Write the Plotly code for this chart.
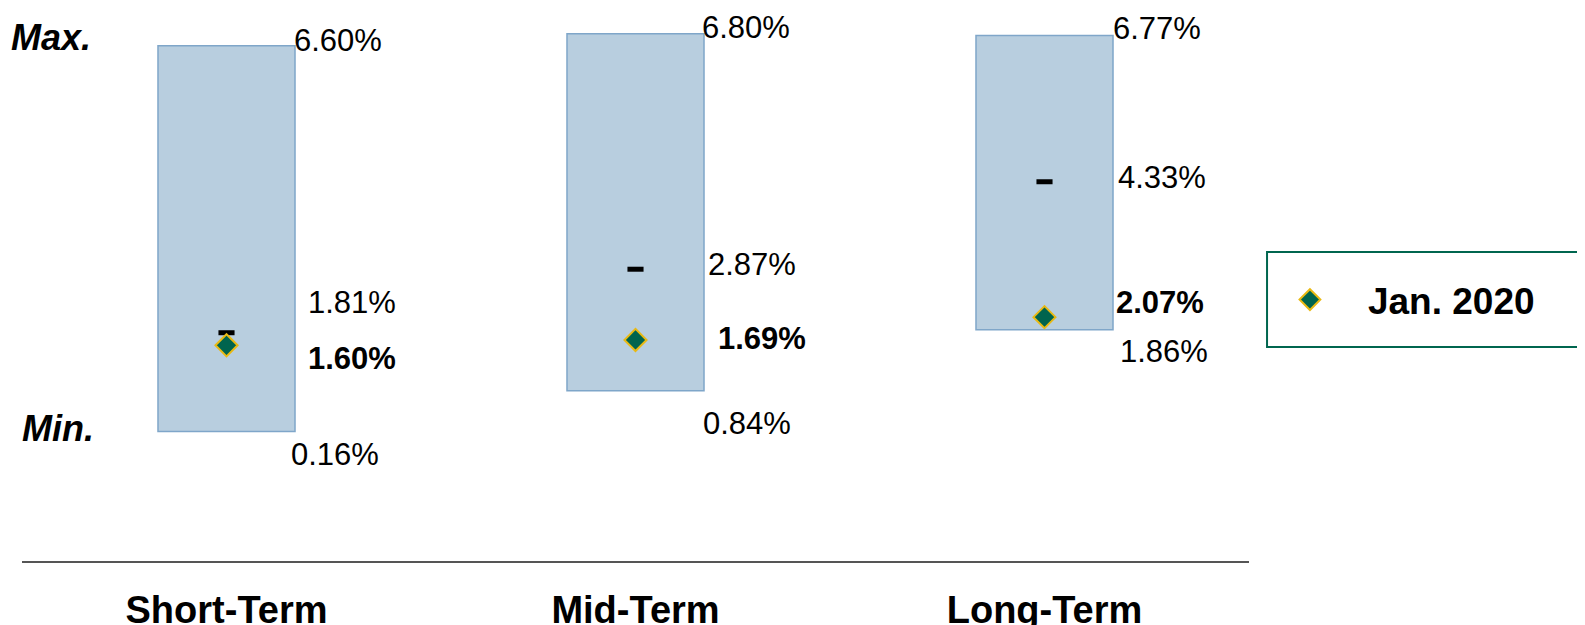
import plotly.graph_objects as go

# ---- data ----
categories = ["Short-Term", "Mid-Term", "Long-Term"]
max_vals = [6.60, 6.80, 6.77]
min_vals = [0.16, 0.84, 1.86]
median_vals = [1.81, 2.87, 4.33]
current_vals = [1.60, 1.69, 2.07]
current_name = "Jan. 2020"

# ---- style ----
FONT = "Arial, Liberation Sans, sans-serif"
BAR_W = 0.335
BAR_FILL = "#B8CEDF"
BAR_LINE = "#7FA6C9"
DIAMOND_FILL = "#00644E"
DIAMOND_LINE = "#E9B913"
GREEN_BORDER = "#00664F"

# label offsets in pixels (dx, dy) per category
max_off = [(-3, 5), (-4, 6), (-2, 7)]
min_off = [(-6, -23), (-3, -33), (5, -22)]
med_off = [(11, 30), (2, 5), (3, 4)]
cur_off = [(11, -13), (12, 1), (1, 15)]

fig = go.Figure()

fig.add_trace(go.Bar(
    x=list(range(len(categories))),
    y=[mx - mn for mx, mn in zip(max_vals, min_vals)],
    base=min_vals,
    width=BAR_W,
    marker=dict(color=BAR_FILL, line=dict(color=BAR_LINE, width=1.5)),
    showlegend=False,
    hoverinfo="skip",
))

fig.add_trace(go.Scatter(
    x=list(range(len(categories))),
    y=median_vals,
    mode="markers",
    marker=dict(symbol="line-ew", size=11.5, line=dict(width=5, color="black")),
    showlegend=False,
    name="Median",
))

fig.add_trace(go.Scatter(
    x=list(range(len(categories))),
    y=current_vals,
    mode="markers",
    marker=dict(symbol="diamond", size=17, color=DIAMOND_FILL,
                line=dict(width=2, color=DIAMOND_LINE)),
    name=current_name,
    showlegend=True,
))

annotations = []
def add_label(i, val, off, bold=False):
    txt = f"{val:.2f}%"
    if bold:
        txt = f"<b>{txt}</b>"
    annotations.append(dict(
        x=i + BAR_W / 2, y=val, xref="x", yref="y",
        text=txt, showarrow=False, xanchor="left", yanchor="middle",
        xshift=off[0], yshift=off[1],
        font=dict(family=FONT, size=31, color="black"),
    ))

for i in range(len(categories)):
    add_label(i, max_vals[i], max_off[i])
    add_label(i, min_vals[i], min_off[i])
    add_label(i, median_vals[i], med_off[i])
    add_label(i, current_vals[i], cur_off[i], bold=True)

# Max./Min. side labels
annotations.append(dict(
    x=0.0575, y=max_vals[0], xref="paper", yref="y", text="<b><i>Max.</i></b>",
    showarrow=False, xanchor="right", yanchor="middle", yshift=8,
    font=dict(family=FONT, size=36, color="black")))
annotations.append(dict(
    x=0.0605, y=min_vals[0], xref="paper", yref="y", text="<b><i>Min.</i></b>",
    showarrow=False, xanchor="right", yanchor="middle", yshift=3,
    font=dict(family=FONT, size=36, color="black")))

fig.update_layout(
    width=1577, height=617,
    margin=dict(l=14, r=336, t=3, b=64, autoexpand=False),
    paper_bgcolor="white", plot_bgcolor="white",
    barmode="overlay",
    annotations=annotations,
    shapes=[dict(type="rect", xref="paper", yref="paper",
                 x0=1.0147, x1=1.30, y0=0.389, y1=0.5618,
                 line=dict(color=GREEN_BORDER, width=2), fillcolor="rgba(0,0,0,0)")],
    legend=dict(
        x=1.0024, xanchor="left", y=0.4745, yanchor="middle",
        font=dict(family=FONT, size=37, color="black", weight="bold"),
        bgcolor="rgba(0,0,0,0)", borderwidth=0, itemwidth=106,
    ),
    xaxis=dict(
        range=[-0.5, 2.5],
        tickmode="array",
        tickvals=list(range(len(categories))),
        ticktext=[f"<b>{c}</b>" for c in categories],
        tickfont=dict(family=FONT, size=38, color="black"),
        showline=True, linecolor="#555555", linewidth=2,
        showgrid=False, zeroline=False, ticks="",
        ticklabelstandoff=14,
    ),
    yaxis=dict(
        range=[-2, 7.18], visible=False, showgrid=False, zeroline=False,
    ),
)

fig.write_html("out.html")
